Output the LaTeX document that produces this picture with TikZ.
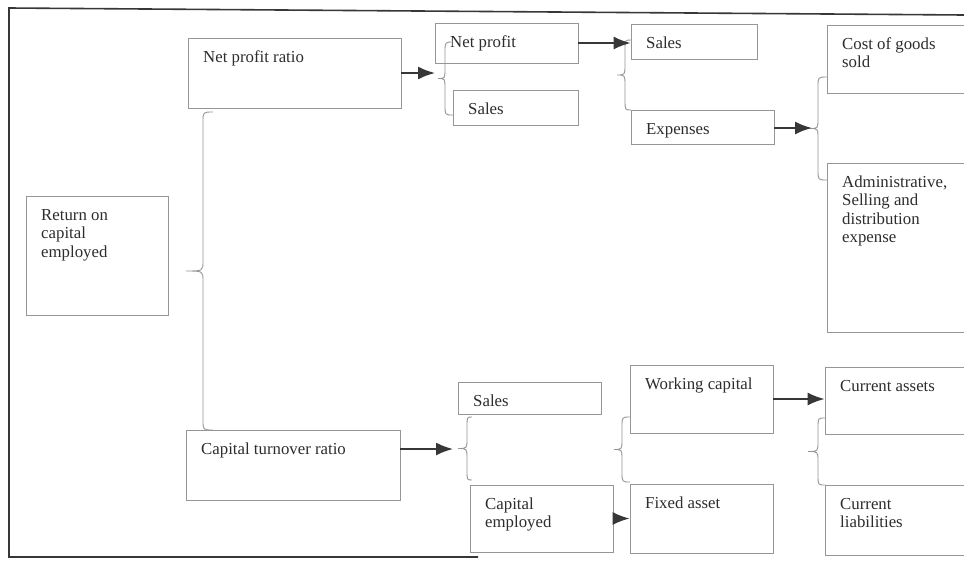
\documentclass[tikz,border=0pt]{standalone}
\usepackage{fontspec}
\setmainfont{Liberation Serif}
\usetikzlibrary{arrows.meta}
\definecolor{boxline}{RGB}{150,150,150}
\definecolor{ink}{RGB}{45,45,45}
\definecolor{arrowc}{RGB}{55,55,55}
\definecolor{framec}{RGB}{55,55,55}
\tikzset{
  boxst/.style={draw=boxline, line width=0.8pt, inner sep=0pt},
  txt/.style={inner sep=0pt, anchor=base west, text=ink, font=\fontsize{16.8}{18.5}\selectfont},
  arr/.style={draw=arrowc, line width=1.8pt, -{Latex[length=17pt,width=13pt]}},
  bracest/.style={draw=boxline, line width=0.9pt},
  framest/.style={draw=framec, line width=1.6pt},
}
% name, x1, y1, x2, y2, text
\newcommand\mybox[6]{%
  \node[boxst, minimum width={(#4-#2)*1pt}, minimum height={(#5-#3)*1pt}] (#1) at ({(#2+#4)/2},{(#3+#5)/2}) {};
  \node[txt] (#1-t) at (#2+15,#3+24) {\parbox[t]{170pt}{\raggedright #6}};
}
% xe, y1, y2, xv, xt
\newcommand\mybrace[5]{%
  \draw[bracest] (#1,#2) .. controls (#4,#2) .. (#4,#2+10)
    -- (#4,{(#2+#3)/2-10}) .. controls (#4,{(#2+#3)/2}) .. (#5,{(#2+#3)/2})
    .. controls (#4,{(#2+#3)/2}) .. (#4,{(#2+#3)/2+10})
    -- (#4,#3-10) .. controls (#4,#3) .. (#1,#3);
}
\begin{document}
\begin{tikzpicture}[x=1pt,y=-1pt]
\useasboundingbox (0,0) rectangle (964,560);
\fill[white] (0,0) rectangle (964,560);
\clip (0,0) rectangle (964,560);

% outer frame
\draw[framest] (964,15) -- (9,8) -- (9,557) -- (478,557);

% boxes
\mybox{npr}{188}{38}{401}{108}{Net profit ratio}
\mybox{roce}{26}{196}{168}{315}{Return on\\capital\\employed}
\mybox{np}{435}{23}{578}{63}{Net profit}
\mybox{salesa}{453}{90}{578}{125}{Sales}
\mybox{salesb}{631}{24}{757}{59}{Sales}
\mybox{exp}{631}{110}{774}{144}{Expenses}
\mybox{cogs}{827}{25}{1000}{93}{Cost of goods\\sold}
\mybox{admin}{827}{163}{1000}{332}{Administrative,\\Selling and\\distribution\\expense}
\mybox{ctr}{186}{430}{400}{500}{Capital turnover ratio}
\mybox{salesc}{458}{382}{601}{414}{Sales}
\mybox{capemp}{470}{485}{613}{552}{Capital\\employed}
\mybox{wc}{630}{365}{773}{433}{Working capital}
\mybox{fa}{630}{484}{773}{553}{Fixed asset}
\mybox{ca}{825}{367}{1000}{434}{Current assets}
\mybox{cl}{825}{485}{1000}{555}{Current\\liabilities}

% braces
\mybrace{213}{112}{430}{203}{186}
\mybrace{453}{42}{115}{445}{438}
\mybrace{631}{40}{110}{625}{617}
\mybrace{827}{77}{180}{818}{810}
\mybrace{472}{417}{480}{467}{458}
\mybrace{630}{417}{482}{622}{614}
\mybrace{825}{418}{485}{818}{808}

% brace tips
\coordinate (t1) at (435,73);
\coordinate (t3) at (812,128);
\coordinate (t5) at (453,449);

% arrows
\draw[arr] (npr.east) -- (t1);
\draw[arr] (np.east) -- (np.east -| salesb.west);
\draw[arr] (exp.east |- t3) -- (t3);
\draw[arr] (ctr.east |- t5) -- (t5);
\draw[arr] (capemp.east) -- (capemp.east -| fa.west);
\draw[arr] (wc.east) -- (wc.east -| ca.west);
\end{tikzpicture}
\end{document}
